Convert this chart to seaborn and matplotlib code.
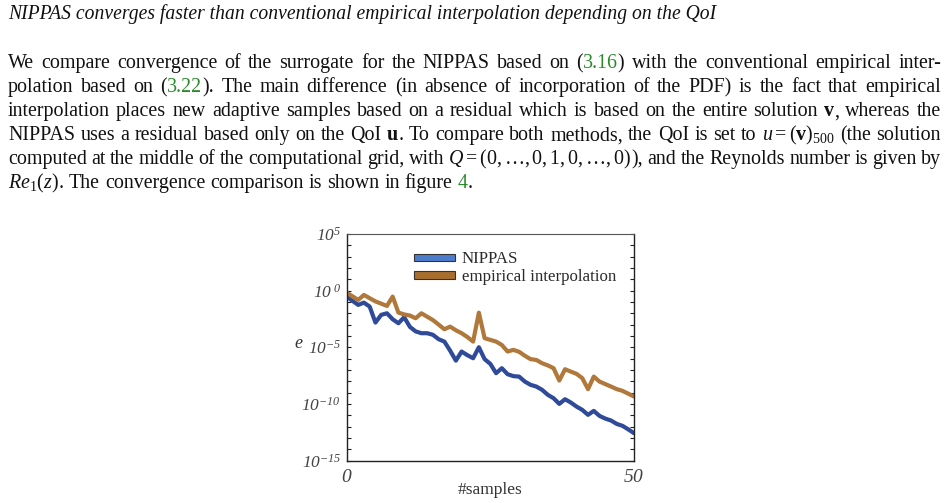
import matplotlib
matplotlib.use("Agg")
import matplotlib.pyplot as plt
import matplotlib.ticker as mticker
import seaborn as sns
import pandas as pd
from matplotlib.patches import Patch

# ==========================
# data (log10 of the error)
# ==========================
samples = list(range(51))

log_nippas = [-0.53, -0.90, -1.26, -1.06, -1.41, -2.82, -2.14, -2.00, -2.53, -2.88,
              -2.35, -3.20, -3.60, -3.76, -3.76, -3.90, -4.29, -4.50, -5.30, -6.18,
              -5.38, -5.70, -5.97, -5.00, -6.05, -6.47, -7.29, -6.85, -7.38, -7.55,
              -7.59, -8.03, -8.32, -8.47, -8.76, -9.20, -9.50, -10.00, -9.59, -9.88,
              -10.24, -10.53, -10.97, -10.62, -11.06, -11.30, -11.47, -11.77, -11.94, -12.25,
              -12.59]

log_empirical = [-0.18, -0.50, -0.82, -0.38, -0.67, -0.95, -1.15, -1.35, -0.53, -1.94,
                 -2.10, -2.20, -2.44, -2.00, -2.30, -2.60, -3.00, -3.41, -3.18, -3.50,
                 -3.76, -4.10, -4.50, -1.95, -4.20, -4.35, -4.50, -4.80, -5.38, -5.23,
                 -5.40, -5.75, -6.05, -6.12, -6.41, -6.60, -6.85, -7.94, -6.94, -7.15,
                 -7.35, -7.73, -8.70, -7.59, -8.03, -8.25, -8.47, -8.70, -8.85, -9.10,
                 -9.35]

methods = ["NIPPAS", "empirical interpolation"]
line_colors = ["#2f4a98", "#b0783a"]
legend_colors = ["#4d7ccc", "#a86e2e"]
y_ticks = [1e-15, 1e-10, 1e-5, 1e0, 1e5]
y_tick_labels = [r"$\mathsf{10}^{\mathsf{-15}}$", r"$\mathsf{10}^{\mathsf{-10}}$",
                 r"$\mathsf{10}^{\mathsf{-5}}$", r"$\mathsf{10}^{\ \mathsf{0}}$",
                 r"$\mathsf{10}^{\mathsf{5}}$"]
x_ticks = [0, 50]
x_tick_labels = [r"$\mathsf{0}$", r"$\mathsf{50}$"]

df = pd.DataFrame({
    "samples": samples * 2,
    "e": [10 ** v for v in log_nippas] + [10 ** v for v in log_empirical],
    "method": [methods[0]] * len(samples) + [methods[1]] * len(samples),
})

# ==========================
# style
# ==========================
sns.set_theme(style="white")
plt.rcParams["font.family"] = ["Liberation Serif", "DejaVu Serif"]
plt.rcParams["mathtext.fontset"] = "custom"
plt.rcParams["mathtext.rm"] = "Liberation Serif"
plt.rcParams["mathtext.it"] = "Liberation Serif:italic"
plt.rcParams["mathtext.bf"] = "Liberation Serif:bold"
plt.rcParams["mathtext.sf"] = "Liberation Serif:italic"  # used for the italic tick labels

W, H = 949, 503
fig = plt.figure(figsize=(W / 100, H / 100), dpi=100)
renderer = fig.canvas.get_renderer()

# ==========================
# text of the page
# ==========================
GREEN = "#2a8a2a"
BLACK = "#111111"


def words(s, color=BLACK, weight="normal"):
    return [[(w, color, weight)] for w in s.split()]


title = "NIPPAS converges faster than conventional empirical interpolation depending on the QoI"
t = fig.text(8 / W, 1 - 19.5 / H, title, fontsize=12, style="italic", va="baseline", color=BLACK)
wdt = t.get_window_extent(renderer).width
t.set_fontsize(12 * 706 / wdt)

lines = [
    words("We compare convergence of the surrogate for the NIPPAS based on")
    + [[("(", BLACK, "normal"), ("3.16", GREEN, "normal"), (")", BLACK, "normal")]]
    + words("with the conventional empirical inter-"),
    words("polation based on")
    + [[("(", BLACK, "normal"), ("3.22", GREEN, "normal"), (").", BLACK, "normal")]]
    + words("The main difference (in absence of incorporation of the PDF) is the fact that empirical"),
    words("interpolation places new adaptive samples based on a residual which is based on the entire solution")
    + [[("v", BLACK, "bold"), (",", BLACK, "normal")]]
    + words("whereas the"),
    words("NIPPAS uses a residual based only on the QoI")
    + [[("u", BLACK, "bold"), (".", BLACK, "normal")]]
    + words("To compare both methods, the QoI is set to")
    + [[(r"$u=(\mathbf{v})_{500}$", BLACK, "normal")]]
    + words("(the solution"),
    words("computed at the middle of the computational grid, with")
    + [[(r"$Q=(0,\ldots,0,1,0,\ldots,0)$", BLACK, "normal"), ("),", BLACK, "normal")]]
    + words("and the Reynolds number is given by"),
    [[(r"$Re_1(z)$", BLACK, "normal"), (".", BLACK, "normal")]]
    + words("The convergence comparison is shown in figure")
    + [[("4", GREEN, "normal"), (".", BLACK, "normal")]],
]
baselines = [68.3, 92.3, 116.2, 140.2, 164.2, 188.0]


def make_line(line, size):
    placed = []
    for word in line:
        segs = []
        for txt, col, wt in word:
            a = fig.text(0, 0, txt, fontsize=size, color=col, fontweight=wt, va="baseline", ha="left")
            segs.append([a, a.get_window_extent(renderer).width])
        placed.append(segs)
    return placed


def line_width(placed):
    return sum(w for segs in placed for _, w in segs)


# calibrate font size with the last (not justified) line
size0 = 13.0
probe = make_line(lines[-1], size0)
space0 = size0 * 1.389 * 0.25
natural = line_width(probe) + space0 * (len(probe) - 1)
for segs in probe:
    for a, _ in segs:
        a.remove()
size = size0 * (470 - 8) / natural
space = size * 1.389 * 0.25

for k, (line, yb) in enumerate(zip(lines, baselines)):
    placed = make_line(line, size)
    total = line_width(placed)
    if k < len(lines) - 1:
        gap = (941 - 8 - total) / (len(placed) - 1)
    else:
        gap = space
    x = 8
    for segs in placed:
        for a, w in segs:
            a.set_position((x / W, 1 - yb / H))
            x += w
        x += gap

# ==========================
# chart
# ==========================
ax = fig.add_axes([346.7 / W, 1 - 460.5 / H, (634 - 346.7) / W, (460.5 - 234) / H])
sns.lineplot(data=df, x="samples", y="e", hue="method", palette=line_colors,
             linewidth=3.0, ax=ax, legend=False)
ax.set_yscale("log")
ax.set_xlim(0, 50)
ax.set_ylim(1e-15, 1e5)

ax.yaxis.set_major_locator(mticker.FixedLocator(y_ticks))
ax.yaxis.set_minor_locator(mticker.FixedLocator([10.0 ** k for k in range(-15, 6)]))
ax.yaxis.set_minor_formatter(mticker.NullFormatter())
ax.set_yticklabels(y_tick_labels)
ax.set_xticks(x_ticks)
ax.set_xticklabels(x_tick_labels)

ax.tick_params(axis="y", which="both", direction="in", left=True, right=True,
               length=3, width=0.8, color="#222222", labelsize=12.5, labelcolor="#444444", pad=4)
ax.tick_params(axis="x", length=0, labelsize=14, labelcolor="#444444", pad=6)

for side in ["left", "right", "bottom"]:
    ax.spines[side].set_color("#222222")
    ax.spines[side].set_linewidth(1.0)
ax.spines["top"].set_color("#555555")
ax.spines["top"].set_linewidth(0.8)

ax.set_xlabel("#samples", fontsize=12.5, color="#333333", labelpad=-3)
ax.set_ylabel(r"$e$", fontsize=13, color="#333333", rotation=0, labelpad=8)
ax.yaxis.set_label_coords(-0.168, 0.48)

handles = [Patch(facecolor=c, edgecolor="#333333", linewidth=0.8, label=m)
           for c, m in zip(legend_colors, methods)]
ax.legend(handles=handles, loc="upper left", bbox_to_anchor=(406 / W, 1 - 243 / H),
          bbox_transform=fig.transFigure, frameon=False, fontsize=12.2,
          handlelength=2.4, handleheight=0.3, handletextpad=0.4, labelspacing=0.1,
          borderpad=0, labelcolor="#2a2a2a")

fig.savefig("out.png", dpi=100)
